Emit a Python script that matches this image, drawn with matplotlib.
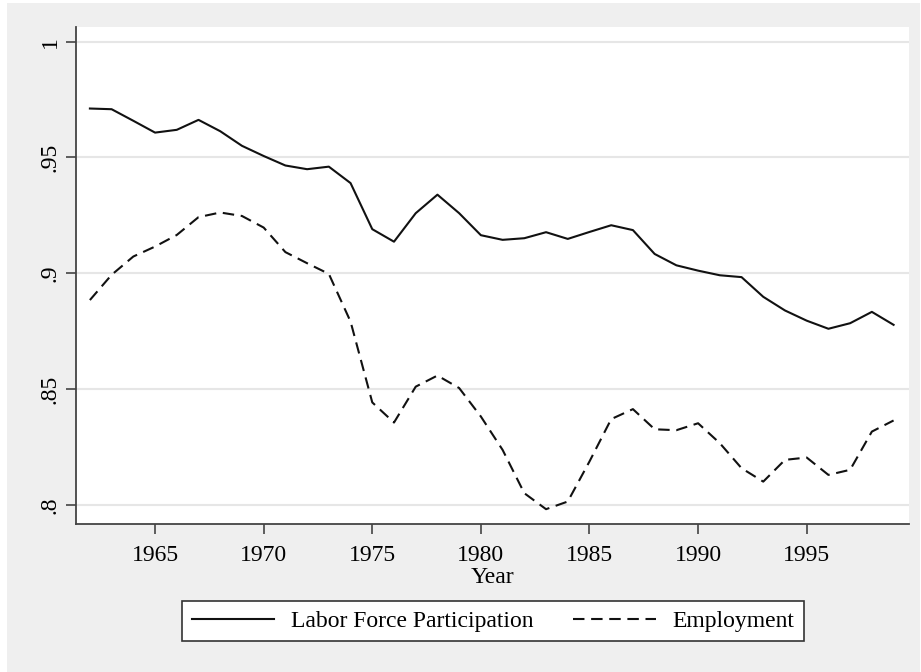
import matplotlib.pyplot as plt
from matplotlib.patches import Rectangle

years = list(range(1962, 2000))
labor_force = [0.9711, 0.9708, 0.9658, 0.9607, 0.9619, 0.9662, 0.9613, 0.9550,
               0.9506, 0.9465, 0.9449, 0.9460, 0.9389, 0.9190, 0.9136, 0.9259,
               0.9339, 0.9259, 0.9164, 0.9144, 0.9151, 0.9177, 0.9148, 0.9178,
               0.9207, 0.9186, 0.9083, 0.9034, 0.9011, 0.8991, 0.8983, 0.8898,
               0.8839, 0.8795, 0.8760, 0.8784, 0.8833, 0.8777]
employment = [0.8884, 0.8993, 0.9072, 0.9115, 0.9165, 0.9242, 0.9262, 0.9247,
              0.9197, 0.9091, 0.9043, 0.8997, 0.8791, 0.8442, 0.8355, 0.8510,
              0.8558, 0.8504, 0.8381, 0.8237, 0.8050, 0.7981, 0.8014, 0.8187,
              0.8370, 0.8413, 0.8326, 0.8322, 0.8352, 0.8266, 0.8158, 0.8100,
              0.8194, 0.8204, 0.8129, 0.8151, 0.8316, 0.8364]
yticks = [0.8, 0.85, 0.9, 0.95, 1.0]
ytick_labels = ['.8', '.85', '.9', '.95', '1']
xticks = [1965, 1970, 1975, 1980, 1985, 1990, 1995]

plt.rcParams['font.family'] = ['Liberation Serif', 'DejaVu Serif']

fig = plt.figure(figsize=(9.21, 6.72), dpi=100, facecolor='white')
# gray graph region like Stata
fig.patches.append(Rectangle((7 / 921, 0), 913 / 921, 669 / 672,
                             transform=fig.transFigure, facecolor='#efefef',
                             edgecolor='none', zorder=-10))

ax = fig.add_axes([76 / 921, 148 / 672, 833 / 921, 497 / 672])
ax.set_facecolor('white')

ax.plot(years, labor_force, color='#111111', lw=1.5, label='Labor Force Participation')
ax.plot(years, employment, color='#111111', lw=1.5, dashes=(5.5, 3.2), label='Employment')

ax.set_xlim(1961.36, 1999.71)
ax.set_ylim(0.7917, 1.0063)
ax.set_yticks(yticks)
ax.set_yticklabels(ytick_labels, rotation=90, va='center', fontsize=17)
ax.set_xticks(xticks)
ax.set_xticklabels([str(x) for x in xticks], fontsize=17)
ax.grid(axis='y', color='#e6e6e6', lw=1.5)
ax.set_axisbelow(True)

for s in ['top', 'right']:
    ax.spines[s].set_visible(False)
for s in ['left', 'bottom']:
    ax.spines[s].set_color('#444444')
    ax.spines[s].set_linewidth(1.3)
ax.tick_params(direction='out', length=7, width=1.2, color='#444444')
ax.tick_params(axis='x', pad=8)
ax.tick_params(axis='y', pad=4)

ax.set_xlabel('Year', fontsize=17, labelpad=1)

leg = fig.legend(loc='center', bbox_to_anchor=(493 / 921, 51 / 672), ncol=2,
                 fontsize=17, handlelength=3.5, handletextpad=0.7,
                 columnspacing=1.7, fancybox=False, framealpha=1,
                 edgecolor='#333333', borderpad=0.4)
leg.get_frame().set_linewidth(1.2)

fig.savefig('out.png', dpi=100, facecolor=fig.get_facecolor())
